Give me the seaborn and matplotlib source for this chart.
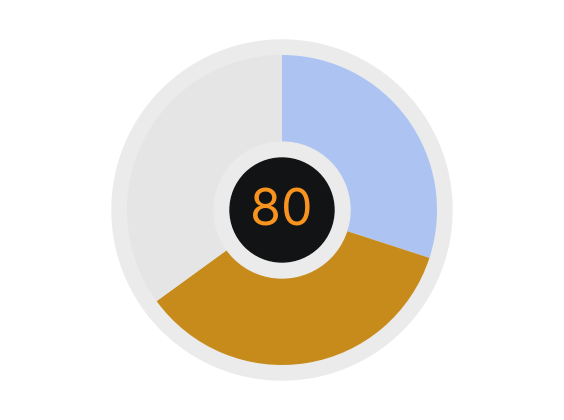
import numpy as np
import pandas as pd
import seaborn as sns
import matplotlib
matplotlib.use("Agg")
import matplotlib.pyplot as plt
from matplotlib.patches import Circle

# data
labels = ["A", "B", "C"]
values = [30, 35, 35]
colors = ["#adc4f3", "#c78b1c", "#e5e5e5"]
center_value = 80

sns.set_theme(style="white")
plt.rcParams['font.family'] = ['Inter', 'DejaVu Sans']

fig = plt.figure(figsize=(5.64, 4.2), dpi=100)
ax = fig.add_axes([0, 0, 1, 1])

cx, cy = 282, 210
# outer ring behind the pie
ax.add_patch(Circle((cx, cy), 170, color="#ebebeb", zorder=0))

ax.pie(values, colors=colors, startangle=90, counterclock=False,
       center=(cx, cy), radius=155, wedgeprops=dict(linewidth=0))

# hole in the middle
ax.add_patch(Circle((cx, cy), 68, color="#ebebeb", zorder=5))
ax.add_patch(Circle((cx, cy), 52, color="#111315", zorder=6))
ax.text(cx - 1, cy - 2, str(center_value), ha="center", va="center",
        fontsize=36, color="#f7931e", zorder=7)

ax.set_xlim(0, 564)
ax.set_ylim(0, 420)
ax.set_aspect("equal")
ax.axis("off")

fig.savefig("out.png", dpi=100, facecolor="white")
